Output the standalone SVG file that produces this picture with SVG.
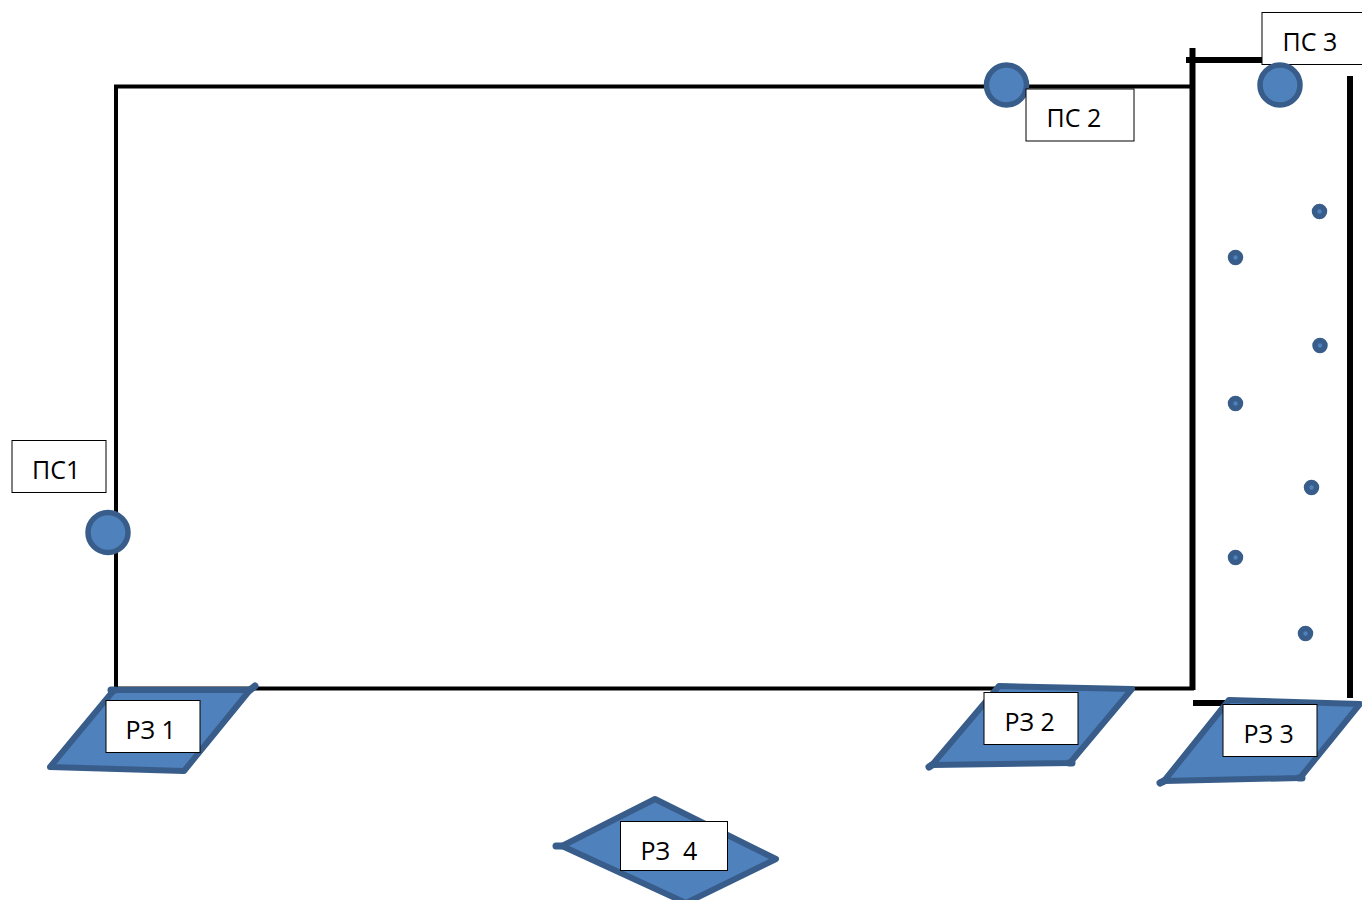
<svg xmlns="http://www.w3.org/2000/svg" width="1362" height="900" viewBox="0 0 1362 900">
<style>
.w{fill:none;stroke:#000;stroke-linecap:butt}
.s{fill:#4f81bd;stroke:#385d8a;stroke-width:6;stroke-linejoin:round;stroke-linecap:round}
.n{fill:none;stroke:#385d8a;stroke-width:7;stroke-linecap:round}
.d{fill:#4f81bd;stroke:#385d8a;stroke-width:5.500}
.b{fill:#fff;stroke:#000;stroke-width:1}
text{font-family:"Open Sans","Liberation Sans",sans-serif;font-size:25px;fill:#000;text-anchor:start}
</style>
<rect width="1362" height="900" fill="#fff"/>
<g id="connectors">
<path class="w" stroke-width="4" d="M116 688V86.500H1192"/>
<path class="w" stroke-width="4" d="M116 688.500H1194"/>
<path class="w" stroke-width="6" d="M1192.500 48V690"/>
<path class="w" stroke-width="6" d="M1186 60H1264"/>
<path class="w" stroke-width="6" d="M1350 76V698"/>
<path class="w" stroke-width="6" d="M1193 703H1240"/>
</g>
<g id="rz1"><path class="s" d="M114 690H250L184 771L50 767Z"/><path class="n" d="M111 690H115"/><path class="n" d="M250 690L255 686"/><rect class="b" x="106" y="700.500" width="94" height="52"/><text x="125.500" y="739">РЗ 1</text></g>
<g id="rz2"><path class="s" d="M999 686L1132 689L1070 763L932 765Z"/><path class="n" d="M929 767L932 765"/><path class="n" d="M1069 763H1072"/><rect class="b" x="984" y="692.500" width="94" height="52"/><text x="1004.500" y="731">РЗ 2</text></g>
<g id="rz3"><path class="s" d="M1229 700L1360 704L1300 778L1164 781Z"/><path class="n" d="M1160 783L1164 781"/><path class="n" d="M1299 778H1302"/><rect class="b" x="1223" y="704.500" width="94" height="52"/><text x="1243.500" y="743">РЗ 3</text></g>
<g id="rz4"><path class="s" d="M655 799L776 859L686 903L562 846Z"/><path class="n" d="M556 846H562"/><rect class="b" x="620.500" y="821.500" width="107" height="49"/><text x="640.500" y="860" xml:space="preserve">РЗ  4</text></g>
<g id="ps1"><circle class="d" cx="108" cy="532.500" r="20"/><rect class="b" x="12" y="440.500" width="94" height="52"/><text x="32" y="479">ПС1</text></g>
<g id="ps2"><circle class="d" cx="1006.500" cy="85" r="20"/><rect class="b" x="1026" y="89" width="108" height="52"/><text x="1046.500" y="127">ПС 2</text></g>
<g id="ps3"><rect class="b" x="1262" y="12.500" width="108" height="52"/><circle class="d" cx="1280" cy="85" r="20"/><text x="1282.500" y="51">ПС 3</text></g>
<g id="points">
<circle class="d" cx="1319.500" cy="211.500" r="5"/><circle class="d" cx="1235.500" cy="257.500" r="5"/><circle class="d" cx="1320" cy="345.500" r="5"/><circle class="d" cx="1235.500" cy="403.500" r="5"/><circle class="d" cx="1311.500" cy="487.500" r="5"/><circle class="d" cx="1235.500" cy="557.500" r="5"/><circle class="d" cx="1305.500" cy="633.500" r="5"/>
</g>
</svg>
